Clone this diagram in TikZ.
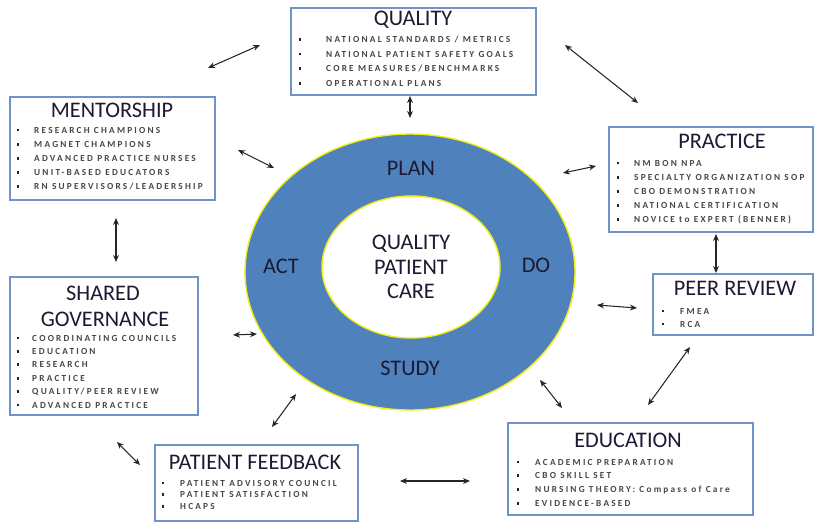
\documentclass[tikz,border=0pt]{standalone}
\usepackage{fontspec}
\setmainfont{Carlito}
\newfontfamily\itemfont[LetterSpace=24]{Carlito}
\usetikzlibrary{arrows.meta,fit,shapes.geometric}
\definecolor{boxline}{RGB}{110,148,200}
\definecolor{ringblue}{RGB}{79,129,189}
\definecolor{ringedge}{RGB}{240,240,20}
\definecolor{titletext}{RGB}{30,25,50}
\tikzset{
  box/.style={draw=boxline,line width=0.9pt,fill=white,inner sep=0pt},
  title/.style={font=\fontsize{19}{21}\selectfont,text=titletext,inner sep=0pt},
  ring/.style={font=\fontsize{19}{21}\selectfont,text=titletext,inner sep=0pt},
  item/.style={font=\itemfont\bfseries\fontsize{7.9}{9}\selectfont,anchor=west,inner sep=0pt,text=black!72},
  bul/.style={rectangle,fill=black!85,inner sep=0pt,minimum size=0.08cm},
  link/.style={{Stealth[length=6pt,width=5pt]}-{Stealth[length=6pt,width=5pt]},line width=0.9pt,black!85}
}
\begin{document}
\begin{tikzpicture}[x=0.03cm,y=-0.03cm]
\useasboundingbox (0,0) rectangle (819,523);
% ring
\node[draw=ringedge,line width=1.2pt,fill=ringblue,ellipse,minimum width=330*0.03cm,minimum height=276*0.03cm,inner sep=0pt] (outer) at (410,272) {};
\node[draw=ringedge,line width=1.2pt,fill=white,ellipse,minimum width=178*0.03cm,minimum height=142*0.03cm,inner sep=0pt] (inner) at (411,267) {};
\node[ring] (plan) at (411,168) {PLAN};
\node[ring] (act) at (281,266) {ACT};
\node[ring] (do) at (536,265) {DO};
\node[ring] (study) at (410,368) {STUDY};
\node[ring,align=center,font=\fontsize{19}{21}\selectfont] (qpc) at (411,267) {QUALITY\\PATIENT\\CARE};

% QUALITY
\node[box,fit={(291,8) (536,95)}] (quality) {};
\node[title] (qualityt) at (413,20) {QUALITY};
\foreach \t [count=\i] in {NATIONAL STANDARDS / METRICS,NATIONAL PATIENT SAFETY GOALS,CORE MEASURES/BENCHMARKS,OPERATIONAL PLANS}{
  \node[bul] (qb\i) at (300,{39.5+14.6*(\i-1)}) {};
  \node[item] (qi\i) at (326,{39.5+14.6*(\i-1)}) {\t};
}
% MENTORSHIP
\node[box,fit={(10,97) (215,200)}] (mentor) {};
\node[title] (mentort) at (112,110) {MENTORSHIP};
\foreach \t [count=\i] in {RESEARCH CHAMPIONS,MAGNET CHAMPIONS,ADVANCED PRACTICE NURSES,UNIT-BASED EDUCATORS,RN SUPERVISORS/LEADERSHIP}{
  \node[bul] (mb\i) at (18,{130+14.2*(\i-1)}) {};
  \node[item] (mi\i) at (34,{130+14.2*(\i-1)}) {\t};
}
% PRACTICE
\node[box,fit={(609,127) (813,232)}] (practice) {};
\node[title] (practicet) at (722,141) {PRACTICE};
\foreach \t [count=\i] in {NM BON NPA,SPECIALTY ORGANIZATION SOP,CBO DEMONSTRATION,NATIONAL CERTIFICATION,NOVICE to EXPERT (BENNER)}{
  \node[bul] (pb\i) at (618,{163+14.2*(\i-1)}) {};
  \node[item] (pi\i) at (634,{163+14.2*(\i-1)}) {\t};
}
% SHARED GOVERNANCE
\node[box,fit={(10,277) (198,415)}] (shared) {};
\node[title] (sharedt1) at (103,293) {SHARED};
\node[title] (sharedt2) at (105,319) {GOVERNANCE};
\foreach \t [count=\i] in {COORDINATING COUNCILS,EDUCATION,RESEARCH,PRACTICE,QUALITY/PEER REVIEW,ADVANCED PRACTICE}{
  \node[bul] (sb\i) at (18,{338+13.4*(\i-1)}) {};
  \node[item] (si\i) at (32,{338+13.4*(\i-1)}) {\t};
}
% PEER REVIEW
\node[box,fit={(653,274) (813,335)}] (peer) {};
\node[title] (peert) at (735,288) {PEER REVIEW};
\foreach \t [count=\i] in {FMEA,RCA}{
  \node[bul] (rb\i) at (663,{311+13*(\i-1)}) {};
  \node[item] (ri\i) at (680,{311+13*(\i-1)}) {\t};
}
% PATIENT FEEDBACK
\node[box,fit={(155,445) (358,521)}] (feedback) {};
\node[title] (feedbackt) at (255,462) {PATIENT FEEDBACK};
\foreach \t [count=\i] in {PATIENT ADVISORY COUNCIL,PATIENT SATISFACTION,HCAPS}{
  \node[bul] (fb\i) at (163,{483+11.7*(\i-1)}) {};
  \node[item] (fi\i) at (180,{483+11.7*(\i-1)}) {\t};
}
% EDUCATION
\node[box,fit={(508,423) (753,515)}] (education) {};
\node[title] (educationt) at (628,440) {EDUCATION};
\foreach \t [count=\i] in {ACADEMIC PREPARATION,CBO SKILL SET,NURSING THEORY: Compass of Care,EVIDENCE-BASED}{
  \node[bul] (eb\i) at (518,{462+13.8*(\i-1)}) {};
  \node[item] (ei\i) at (535,{462+13.8*(\i-1)}) {\t};
}

% arrow end points
\coordinate (a1s) at (208,68);  \coordinate (a1e) at (260,45);
\coordinate (a2s) at (565,45);  \coordinate (a2e) at (638,103);
\coordinate (a3s) at (410,96);  \coordinate (a3e) at (410,118);
\coordinate (a4s) at (238,150); \coordinate (a4e) at (274,168);
\coordinate (a5s) at (563,173); \coordinate (a5e) at (596,166);
\coordinate (a6s) at (116,218); \coordinate (a6e) at (116,262);
\coordinate (a7s) at (716,234); \coordinate (a7e) at (716,273);
\coordinate (a8s) at (233,335); \coordinate (a8e) at (257,334);
\coordinate (a9s) at (597,305); \coordinate (a9e) at (637,308);
\coordinate (a10s) at (690,347); \coordinate (a10e) at (648,405);
\coordinate (a11s) at (540,380); \coordinate (a11e) at (562,408);
\coordinate (a12s) at (296,394); \coordinate (a12e) at (272,427);
\coordinate (a13s) at (117,442); \coordinate (a13e) at (140,465);
\coordinate (a14s) at (400,481); \coordinate (a14e) at (470,481);
\foreach \k in {1,...,14}{\draw[link] (a\k s) -- (a\k e);}
\end{tikzpicture}
\end{document}
